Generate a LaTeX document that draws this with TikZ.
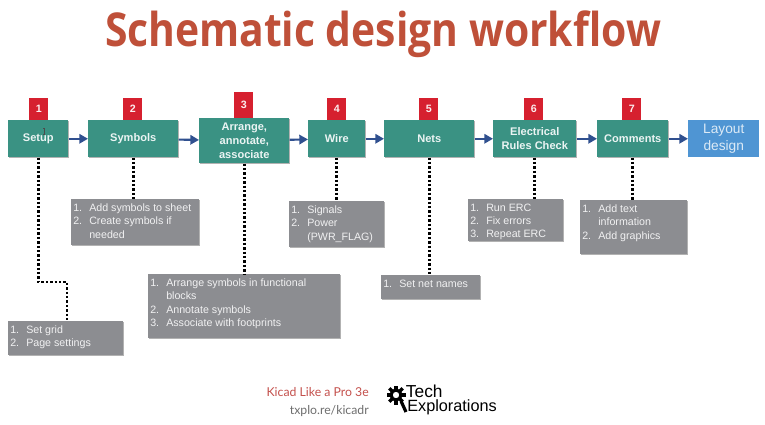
\documentclass[tikz,border=0pt]{standalone}
\usepackage{fontspec}
\usepackage{graphicx}
\setmainfont{Liberation Sans}
\newfontfamily\titlefont{Open Sans}
\newfontfamily\creditfont{Lato}
\usetikzlibrary{shadows,arrows.meta}
\definecolor{teal1}{HTML}{3A9283}
\definecolor{red1}{HTML}{D6202F}
\definecolor{blue1}{HTML}{4F95D3}
\definecolor{grey1}{HTML}{8C8D91}
\definecolor{flow1}{HTML}{30508F}
\definecolor{title1}{HTML}{BF5039}
\definecolor{credit1}{HTML}{C4504C}
\definecolor{credit2}{HTML}{6E6E6E}
\newcommand{\numb}[1]{\makebox[12pt][l]{#1}}
\newcommand{\nonum}{\hspace*{12pt}}
\newcommand{\glist}[3]{\parbox[t][\dimexpr#2pt*3/4\relax][t]{\dimexpr#1pt*3/4\relax}{\vspace{3.3pt}\hspace*{1.5pt}\begin{minipage}[t]{\dimexpr#1pt*3/4-2pt\relax}\raggedright\baselineskip=10pt #3\end{minipage}}}
\tikzset{
  wh/.style 2 args={minimum width=#1*0.75pt,minimum height=#2*0.75pt},
  shadowed/.style={drop shadow={shadow xshift=0.7pt,shadow yshift=-0.7pt,fill=black,opacity=.3}},
  stepbox/.style={shadowed,fill=teal1,text=white!90!teal1,anchor=north west,inner sep=0pt,align=center,font=\fontsize{8.3}{10.5}\selectfont\bfseries},
  numbox/.style={fill=red1,text=white!92!red1,anchor=north west,inner sep=0pt,font=\fontsize{8}{10}\selectfont\bfseries},
  endbox/.style={fill=blue1,text=white!80!blue1,anchor=north west,inner sep=0pt,align=center,font=\fontsize{10.3}{13}\selectfont},
  notebox/.style={shadowed,fill=grey1,text=white!88!grey1,anchor=north west,inner sep=0pt,font=\fontsize{8}{10}\selectfont},
  flow/.style={draw=flow1,line width=1.6pt,-{Triangle[length=6.5pt,width=7pt]}},
  dots/.style={draw=black,line width=2pt,dash pattern=on 1.8pt off 1.5pt}
}
\begin{document}
\begin{tikzpicture}[x=0.75pt,y=-0.75pt]
\useasboundingbox (0,0) rectangle (765,425);
\fill[white] (0,0) rectangle (765,425);
\node[text=title1,font=\fontsize{35}{40}\titlefont\bfseries] (title) at (383,34) {\scalebox{0.875}[1]{Schematic design workflow}};

\node[numbox,wh={19}{22}] (n1) at (29,98) {1};
\node[numbox,wh={19}{22}] (n2) at (123,98) {2};
\node[numbox,wh={19}{26}] (n3) at (234,92) {3};
\node[numbox,wh={19}{22}] (n4) at (327,98) {4};
\node[numbox,wh={19}{22}] (n5) at (419,98) {5};
\node[numbox,wh={19}{22}] (n6) at (524,98) {6};
\node[numbox,wh={19}{22}] (n7) at (622,98) {7};

\node[stepbox,wh={60}{37}] (setup) at (8,120) {Setup};
\node[stepbox,wh={90}{37}] (sym) at (88,120) {Symbols};
\node[stepbox,wh={90}{45}] (arr) at (199,118) {Arrange,\\annotate,\\associate};
\node[stepbox,wh={57}{37}] (wire) at (308,120) {Wire};
\node[stepbox,wh={90}{37}] (nets) at (384,120) {Nets};
\node[stepbox,wh={83}{37}] (erc) at (493,120) {Electrical\\Rules Check};
\node[stepbox,wh={71}{37}] (com) at (597,120) {Comments};
\node[endbox,wh={71}{37}] (lay) at (688,120) {Layout\\design};

\draw[flow] (setup) -- (sym);
\draw[flow] (sym) -- (arr);
\draw[flow] (arr) -- (wire);
\draw[flow] (wire) -- (nets);
\draw[flow] (nets) -- (erc);
\draw[flow] (erc) -- (com);
\draw[flow] (com) -- (lay);

\node[notebox] (gsym) at (71,199) {\glist{128}{46}{\numb{1.}Add symbols to sheet\\\numb{2.}Create symbols if\\\nonum needed}};
\node[notebox] (gwire) at (289,201) {\glist{95}{46}{\numb{1.}Signals\\\numb{2.}Power\\\nonum(PWR\_FLAG)}};
\node[notebox] (gerc) at (468,199) {\glist{95}{42}{\numb{1.}Run ERC\\\numb{2.}Fix errors\\\numb{3.}Repeat ERC}};
\node[notebox] (gcom) at (580,200) {\glist{107}{54}{\numb{1.}Add text\\\nonum information\\\numb{2.}Add graphics}};
\node[notebox] (gset) at (8,321) {\glist{115}{34}{\numb{1.}Set grid\\\numb{2.}Page settings}};
\node[notebox] (garr) at (148,274) {\glist{192}{64}{\numb{1.}Arrange symbols in functional\\\nonum blocks\\\numb{2.}Annotate symbols\\\numb{3.}Associate with footprints}};
\node[notebox] (gnet) at (381,275) {\glist{99}{24}{\numb{1.}Set net names}};

\draw[dots] (sym.south) -- (sym.south |- gsym.north);
\draw[dots] (arr.south) -- (arr.south |- garr.north);
\draw[dots] (wire.south) -- (wire.south |- gwire.north);
\draw[dots] (nets.south) -- (nets.south |- gnet.north);
\draw[dots] (erc.south) -- (erc.south |- gerc.north);
\draw[dots] (com.south) -- (com.south |- gcom.north);
\coordinate (bend) at (67,282);
\draw[dots] (setup.south) -- (setup.south |- bend) -- (bend) -- (bend |- gset.north);

% text cursor over Setup
\draw[black!70,line width=0.4pt] (44,128) -- (44,134) (43,128) -- (45,128) (43,134) -- (45,134);

\node[anchor=east,text=credit1,inner sep=0pt,font=\fontsize{9.2}{11}\creditfont] (cr1) at (369,392) {Kicad Like a Pro 3e};
\node[anchor=east,text=credit2,inner sep=0pt,font=\fontsize{9.2}{11}\creditfont] (cr2) at (369,411) {txplo.re/kicadr};

% gear logo
\draw[black,line width=2.4pt] (396,395) circle (5);
\foreach \a in {0,45,...,315}{
  \draw[black,line width=2.4pt] (396,395) ++(\a:6) -- ++(\a:3.5);
}
\draw[black,line width=2.4pt] (401,401) -- (406,412);
\node[anchor=west,inner sep=0pt,align=left,font=\fontsize{12.2}{9.9}\selectfont] (tech) at (407,400) {\hspace*{-1pt}{\fontsize{13}{9.9}\selectfont Tech}\\Explorations};
\end{tikzpicture}
\end{document}
